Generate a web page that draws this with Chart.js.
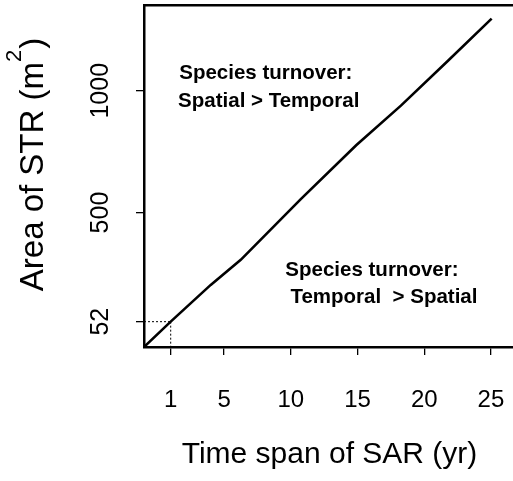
<!DOCTYPE html>
<html><head><meta charset="utf-8">
<script src="https://cdn.jsdelivr.net/npm/chart.js@4.4.0/dist/chart.umd.min.js"></script>
<style>
html,body{margin:0;padding:0;background:#fff;overflow:hidden}
#wrap{width:513px;height:481px;overflow:hidden;position:relative;background:#fff}
canvas{display:block}
</style></head>
<body><div id="wrap"><canvas id="c" width="560" height="481" style="width:560px;height:481px"></canvas></div>
<script>
// ---- data ----
const timeSpan = [-1, 1, 4, 6.25, 10.75, 14.9, 18.25, 21.8, 25.05];
const area     = [-52, 52, 203, 306, 555, 776, 939, 1124, 1296];
const xTicks = [1, 5, 10, 15, 20, 25];
const yTicks = [52, 500, 1000];
const refPoint = [1, 52];
const xTitle = 'Time span of SAR (yr)';
const yTitleParts = ['Area of STR (m', '2', ')'];
const note1 = ['Species turnover:', 'Spatial > Temporal'];
const note2 = ['Species turnover:', 'Temporal  > Spatial'];

const X_MIN = -1, X_MAX = 27.4, Y_MIN = -52, Y_MAX = 1352;
const FONT = '"Liberation Sans", Arial, sans-serif';

const labelsPlugin = {
  id: 'labelsPlugin',
  afterDraw(chart, args, opts) {
    const ctx = chart.ctx;
    const xs = chart.scales.x, ys = chart.scales.y;
    const ca = chart.chartArea;
    ctx.save();
    ctx.fillStyle = '#000';
    ctx.textAlign = 'center';
    ctx.textBaseline = 'middle';
    // x tick labels
    ctx.font = '24px ' + FONT;
    xTicks.forEach(v => ctx.fillText(String(v), xs.getPixelForValue(v), opts.xLabelY));
    // y tick labels (rotated)
    ctx.font = '25px ' + FONT;
    yTicks.forEach(v => {
      ctx.save();
      ctx.translate(opts.yLabelX, ys.getPixelForValue(v));
      ctx.rotate(-Math.PI / 2);
      ctx.fillText(String(v), 0, 0);
      ctx.restore();
    });
    // x title
    ctx.font = '30px ' + FONT;
    ctx.fillText(xTitle, (ca.left + ca.right) / 2 - 4, opts.xTitleY);
    // y title with superscript
    ctx.save();
    ctx.translate(opts.yTitleX, opts.yTitleCenter);
    ctx.rotate(-Math.PI / 2);
    const bigF = '33px ' + FONT, supF = '22px ' + FONT;
    ctx.font = bigF; const w0 = ctx.measureText(yTitleParts[0]).width;
    const w2 = ctx.measureText(yTitleParts[2]).width;
    ctx.font = supF; const w1 = ctx.measureText(yTitleParts[1]).width;
    let x0 = -(w0 + w1 + w2) / 2;
    ctx.textAlign = 'left';
    ctx.font = bigF; ctx.fillText(yTitleParts[0], x0, 0);
    ctx.font = supF; ctx.fillText(yTitleParts[1], x0 + w0, -19);
    ctx.font = bigF; ctx.fillText(yTitleParts[2], x0 + w0 + w1 + 1, 0);
    ctx.restore();
    // notes
    ctx.font = 'bold 20.5px ' + FONT;
    ctx.textAlign = 'center';
    opts.notes.forEach(n => {
      n.lines.forEach((t, i) => ctx.fillText(t, xs.getPixelForValue(n.x[i]), ys.getPixelForValue(n.y[i])));
    });
    ctx.restore();
  }
};

const axisCommon = {
  type: 'linear',
  ticks: { display: false },
  grid: { drawOnChartArea: false, drawTicks: true, tickLength: 8, color: '#000', lineWidth: 1.3 },
  border: { display: true, color: '#000', width: 2.5 }
};

new Chart(document.getElementById('c'), {
  type: 'scatter',
  data: {
    datasets: [
      {
        data: timeSpan.map((x, i) => ({ x, y: area[i] })),
        showLine: true, borderColor: '#000', borderWidth: 2.6, pointRadius: 0, tension: 0
      },
      {
        data: [{ x: X_MIN, y: refPoint[1] }, { x: refPoint[0], y: refPoint[1] }],
        showLine: true, borderColor: '#000', borderWidth: 1, borderDash: [2, 2], pointRadius: 0
      },
      {
        data: [{ x: refPoint[0], y: refPoint[1] }, { x: refPoint[0], y: Y_MIN }],
        showLine: true, borderColor: '#000', borderWidth: 1, borderDash: [2, 2], pointRadius: 0
      }
    ]
  },
  options: {
    responsive: false,
    animation: false,
    events: [],
    layout: { padding: { left: 136, top: 5, right: 37, bottom: 126 } },
    plugins: {
      legend: { display: false },
      tooltip: { enabled: false },
      labelsPlugin: {
        xLabelY: 400, yLabelX: 101, xTitleY: 455, yTitleX: 34, yTitleCenter: 165,
        notes: [
          { lines: note1, x: [8.13, 8.35], y: [1070, 956] },
          { lines: note2, x: [16.08, 16.98], y: [261, 150] }
        ]
      }
    },
    scales: {
      x: Object.assign({}, axisCommon, {
        position: 'bottom', min: X_MIN, max: X_MAX,
        afterBuildTicks: s => { s.ticks = xTicks.map(v => ({ value: v })); }
      }),
      y: Object.assign({}, axisCommon, {
        position: 'left', min: Y_MIN, max: Y_MAX,
        afterBuildTicks: s => { s.ticks = yTicks.map(v => ({ value: v })); }
      }),
      x2: {
        type: 'linear', position: 'top', min: X_MIN, max: X_MAX,
        ticks: { display: false },
        grid: { display: false, drawTicks: false },
        border: { display: true, color: '#000', width: 2.5 }
      }
    }
  },
  plugins: [labelsPlugin]
});
</script>
</body></html>
